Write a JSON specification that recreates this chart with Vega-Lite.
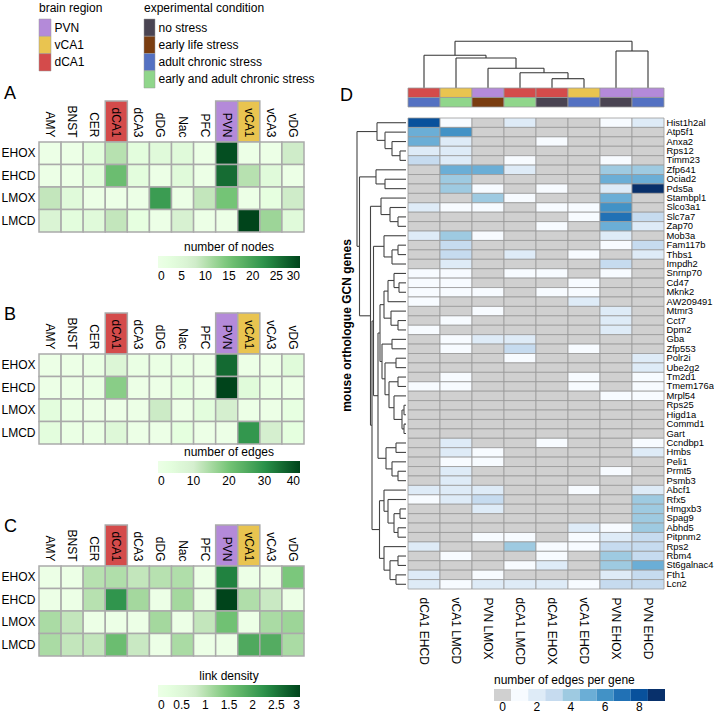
{
"$schema": "https://vega.github.io/schema/vega-lite/v6.json",
"padding": {"left": 0, "top": 1, "right": 0, "bottom": 0},
"config": {"font": "Liberation Sans", "view": {"stroke": null}, "axis": {"grid": false, "ticks": false, "domain": false, "labelColor": "#000", "titleColor": "#000"}, "legend": {"labelColor": "#000", "titleColor": "#000"}},
"datasets": {
"regionKey": [{"cat": "PVN"}, {"cat": "vCA1"}, {"cat": "dCA1"}],
"condKey": [{"cond": "no stress"}, {"cond": "early life stress"}, {"cond": "adult chronic stress"}, {"cond": "early and adult chronic stress"}],
"net": [
{"cond":"EHOX","region":"AMY","nodes":0,"edges":0,"density":0},
{"cond":"EHOX","region":"BNST","nodes":0,"edges":0,"density":0},
{"cond":"EHOX","region":"CER","nodes":3,"edges":1,"density":1.0},
{"cond":"EHOX","region":"dCA1","nodes":10,"edges":7,"density":1.05},
{"cond":"EHOX","region":"dCA3","nodes":3,"edges":1,"density":0.9},
{"cond":"EHOX","region":"dDG","nodes":4,"edges":1,"density":1.0},
{"cond":"EHOX","region":"Nac","nodes":4,"edges":1,"density":1.05},
{"cond":"EHOX","region":"PFC","nodes":0,"edges":0,"density":0},
{"cond":"EHOX","region":"PVN","nodes":29,"edges":35,"density":2.4},
{"cond":"EHOX","region":"vCA1","nodes":0,"edges":0,"density":0},
{"cond":"EHOX","region":"vCA3","nodes":0,"edges":0,"density":0},
{"cond":"EHOX","region":"vDG","nodes":8,"edges":5,"density":1.45},
{"cond":"EHCD","region":"AMY","nodes":0,"edges":0,"density":0},
{"cond":"EHCD","region":"BNST","nodes":0,"edges":0,"density":0},
{"cond":"EHCD","region":"CER","nodes":3,"edges":1,"density":1.0},
{"cond":"EHCD","region":"dCA1","nodes":16,"edges":18,"density":2.2},
{"cond":"EHCD","region":"dCA3","nodes":3,"edges":0,"density":1.15},
{"cond":"EHCD","region":"dDG","nodes":0,"edges":0,"density":0},
{"cond":"EHCD","region":"Nac","nodes":4,"edges":2,"density":1.15},
{"cond":"EHCD","region":"PFC","nodes":0,"edges":0,"density":0},
{"cond":"EHCD","region":"PVN","nodes":26,"edges":40,"density":3.0},
{"cond":"EHCD","region":"vCA1","nodes":10,"edges":5,"density":1.05},
{"cond":"EHCD","region":"vCA3","nodes":4,"edges":1,"density":0.85},
{"cond":"EHCD","region":"vDG","nodes":0,"edges":0,"density":0},
{"cond":"LMOX","region":"AMY","nodes":9,"edges":4,"density":1.1},
{"cond":"LMOX","region":"BNST","nodes":4,"edges":1,"density":0.9},
{"cond":"LMOX","region":"CER","nodes":0,"edges":0,"density":0},
{"cond":"LMOX","region":"dCA1","nodes":0,"edges":0,"density":0},
{"cond":"LMOX","region":"dCA3","nodes":0,"edges":0,"density":0},
{"cond":"LMOX","region":"dDG","nodes":21,"edges":11,"density":1.15},
{"cond":"LMOX","region":"Nac","nodes":0,"edges":0,"density":0},
{"cond":"LMOX","region":"PFC","nodes":9,"edges":4,"density":0.9},
{"cond":"LMOX","region":"PVN","nodes":15,"edges":10,"density":1.55},
{"cond":"LMOX","region":"vCA1","nodes":0,"edges":0,"density":0},
{"cond":"LMOX","region":"vCA3","nodes":2,"edges":0,"density":1.1},
{"cond":"LMOX","region":"vDG","nodes":8,"edges":2,"density":1.2},
{"cond":"LMCD","region":"AMY","nodes":6,"edges":4,"density":1.1},
{"cond":"LMCD","region":"BNST","nodes":3,"edges":1,"density":0.9},
{"cond":"LMCD","region":"CER","nodes":4,"edges":1,"density":0.9},
{"cond":"LMCD","region":"dCA1","nodes":9,"edges":6,"density":1.6},
{"cond":"LMCD","region":"dCA3","nodes":2,"edges":0,"density":0.85},
{"cond":"LMCD","region":"dDG","nodes":0,"edges":0,"density":0},
{"cond":"LMCD","region":"Nac","nodes":7,"edges":3,"density":1.1},
{"cond":"LMCD","region":"PFC","nodes":0,"edges":0,"density":0},
{"cond":"LMCD","region":"PVN","nodes":0,"edges":0,"density":0},
{"cond":"LMCD","region":"vCA1","nodes":30,"edges":29,"density":1.9},
{"cond":"LMCD","region":"vCA3","nodes":12,"edges":10,"density":1.85},
{"cond":"LMCD","region":"vDG","nodes":4,"edges":3,"density":1.1}
],
"annot": [
{"c":"dCA1 EHCD","row":"region","cat":"dCA1"},{"c":"dCA1 EHCD","row":"condition","cat":"adult chronic stress"},
{"c":"vCA1 LMCD","row":"region","cat":"vCA1"},{"c":"vCA1 LMCD","row":"condition","cat":"early and adult chronic stress"},
{"c":"PVN LMOX","row":"region","cat":"PVN"},{"c":"PVN LMOX","row":"condition","cat":"early life stress"},
{"c":"dCA1 LMCD","row":"region","cat":"dCA1"},{"c":"dCA1 LMCD","row":"condition","cat":"early and adult chronic stress"},
{"c":"dCA1 EHOX","row":"region","cat":"dCA1"},{"c":"dCA1 EHOX","row":"condition","cat":"no stress"},
{"c":"vCA1 EHCD","row":"region","cat":"vCA1"},{"c":"vCA1 EHCD","row":"condition","cat":"adult chronic stress"},
{"c":"PVN EHOX","row":"region","cat":"PVN"},{"c":"PVN EHOX","row":"condition","cat":"no stress"},
{"c":"PVN EHCD","row":"region","cat":"PVN"},{"c":"PVN EHCD","row":"condition","cat":"adult chronic stress"}
],
"colTree": [
{"h":9.3,"p1":5,"h1":0,"p2":6,"h2":0},
{"h":15.3,"p1":4,"h1":0,"p2":5.5,"h2":9.3},
{"h":19.7,"p1":3,"h1":0,"p2":4.75,"h2":15.3},
{"h":30,"p1":2,"h1":0,"p2":3.875,"h2":19.7},
{"h":32.7,"p1":1,"h1":0,"p2":2.9375,"h2":30},
{"h":37,"p1":7,"h1":0,"p2":8,"h2":0},
{"h":46.7,"p1":1.96875,"h1":32.7,"p2":7.5,"h2":37}
],
"rowTree": [
{"h":6,"p1":4,"h1":0,"p2":5,"h2":0},
{"h":14,"p1":3,"h1":0,"p2":4.5,"h2":6},
{"h":21,"p1":2,"h1":0,"p2":3.75,"h2":14},
{"h":29,"p1":1,"h1":0,"p2":2.875,"h2":21},
{"h":21,"p1":7,"h1":0,"p2":8,"h2":0},
{"h":30,"p1":6,"h1":0,"p2":7.5,"h2":21},
{"h":8,"p1":11,"h1":0,"p2":12,"h2":0},
{"h":16,"p1":10,"h1":0,"p2":11.5,"h2":8},
{"h":25,"p1":9,"h1":0,"p2":10.75,"h2":16},
{"h":8,"p1":14,"h1":0,"p2":15,"h2":0},
{"h":14,"p1":14.5,"h1":8,"p2":16,"h2":0},
{"h":22,"p1":13,"h1":0,"p2":15.25,"h2":14},
{"h":7,"p1":18,"h1":0,"p2":19,"h2":0},
{"h":12,"p1":17,"h1":0,"p2":18.5,"h2":7},
{"h":18,"p1":17.75,"h1":12,"p2":20,"h2":0},
{"h":8,"p1":22,"h1":0,"p2":23,"h2":0},
{"h":15,"p1":21,"h1":0,"p2":22.5,"h2":8},
{"h":22,"p1":18.875,"h1":18,"p2":21.75,"h2":15},
{"h":14,"p1":24,"h1":0,"p2":25,"h2":0},
{"h":10,"p1":26,"h1":0,"p2":27,"h2":0},
{"h":8,"p1":28,"h1":0,"p2":29,"h2":0},
{"h":2,"p1":31,"h1":0,"p2":32,"h2":0},
{"h":2,"p1":33,"h1":0,"p2":34,"h2":0},
{"h":4,"p1":31.5,"h1":2,"p2":33.5,"h2":2},
{"h":12,"p1":30,"h1":0,"p2":32.5,"h2":4},
{"h":17,"p1":28.5,"h1":8,"p2":31.25,"h2":12},
{"h":21,"p1":26.5,"h1":10,"p2":29.875,"h2":17},
{"h":24,"p1":24.5,"h1":14,"p2":28.1875,"h2":21},
{"h":26,"p1":20.3125,"h1":22,"p2":26.34375,"h2":24},
{"h":10,"p1":35,"h1":0,"p2":36,"h2":0},
{"h":8,"p1":38,"h1":0,"p2":39,"h2":0},
{"h":14,"p1":37,"h1":0,"p2":38.5,"h2":8},
{"h":20,"p1":35.5,"h1":10,"p2":37.75,"h2":14},
{"h":28,"p1":23.328,"h1":26,"p2":36.625,"h2":20},
{"h":32.5,"p1":14.125,"h1":22,"p2":29.977,"h2":28},
{"h":6,"p1":42,"h1":0,"p2":43,"h2":0},
{"h":8,"p1":44,"h1":0,"p2":45,"h2":0},
{"h":12,"p1":42.5,"h1":6,"p2":44.5,"h2":8},
{"h":18,"p1":41,"h1":0,"p2":43.5,"h2":12},
{"h":22,"p1":40,"h1":0,"p2":42.25,"h2":18},
{"h":8,"p1":47,"h1":0,"p2":48,"h2":0},
{"h":10,"p1":49,"h1":0,"p2":50,"h2":0},
{"h":16,"p1":47.5,"h1":8,"p2":49.5,"h2":10},
{"h":22,"p1":46,"h1":0,"p2":48.5,"h2":16},
{"h":26.5,"p1":41.125,"h1":22,"p2":47.25,"h2":22},
{"h":34,"p1":22.051,"h1":32.5,"p2":44.1875,"h2":26.5},
{"h":35.5,"p1":9.875,"h1":25,"p2":33.119,"h2":34},
{"h":46.5,"p1":6.75,"h1":30,"p2":21.497,"h2":35.5},
{"h":49,"p1":1.9375,"h1":29,"p2":14.124,"h2":46.5}
],
"genes": [
{"g":"Hist1h2al","c":"dCA1 EHCD","n":8},{"g":"Hist1h2al","c":"vCA1 LMCD","n":1},{"g":"Hist1h2al","c":"PVN LMOX","n":0},{"g":"Hist1h2al","c":"dCA1 LMCD","n":2},{"g":"Hist1h2al","c":"dCA1 EHOX","n":0},{"g":"Hist1h2al","c":"vCA1 EHCD","n":0},{"g":"Hist1h2al","c":"PVN EHOX","n":1},{"g":"Hist1h2al","c":"PVN EHCD","n":2},
{"g":"Atp5f1","c":"dCA1 EHCD","n":5},{"g":"Atp5f1","c":"vCA1 LMCD","n":6},{"g":"Atp5f1","c":"PVN LMOX","n":0},{"g":"Atp5f1","c":"dCA1 LMCD","n":0},{"g":"Atp5f1","c":"dCA1 EHOX","n":0},{"g":"Atp5f1","c":"vCA1 EHCD","n":0},{"g":"Atp5f1","c":"PVN EHOX","n":0},{"g":"Atp5f1","c":"PVN EHCD","n":0},
{"g":"Anxa2","c":"dCA1 EHCD","n":5},{"g":"Anxa2","c":"vCA1 LMCD","n":2},{"g":"Anxa2","c":"PVN LMOX","n":0},{"g":"Anxa2","c":"dCA1 LMCD","n":0},{"g":"Anxa2","c":"dCA1 EHOX","n":1},{"g":"Anxa2","c":"vCA1 EHCD","n":0},{"g":"Anxa2","c":"PVN EHOX","n":0},{"g":"Anxa2","c":"PVN EHCD","n":0},
{"g":"Rps12","c":"dCA1 EHCD","n":2},{"g":"Rps12","c":"vCA1 LMCD","n":2},{"g":"Rps12","c":"PVN LMOX","n":0},{"g":"Rps12","c":"dCA1 LMCD","n":0},{"g":"Rps12","c":"dCA1 EHOX","n":0},{"g":"Rps12","c":"vCA1 EHCD","n":0},{"g":"Rps12","c":"PVN EHOX","n":0},{"g":"Rps12","c":"PVN EHCD","n":0},
{"g":"Timm23","c":"dCA1 EHCD","n":3},{"g":"Timm23","c":"vCA1 LMCD","n":2},{"g":"Timm23","c":"PVN LMOX","n":0},{"g":"Timm23","c":"dCA1 LMCD","n":1},{"g":"Timm23","c":"dCA1 EHOX","n":0},{"g":"Timm23","c":"vCA1 EHCD","n":0},{"g":"Timm23","c":"PVN EHOX","n":1},{"g":"Timm23","c":"PVN EHCD","n":0},
{"g":"Zfp641","c":"dCA1 EHCD","n":0},{"g":"Zfp641","c":"vCA1 LMCD","n":5},{"g":"Zfp641","c":"PVN LMOX","n":5},{"g":"Zfp641","c":"dCA1 LMCD","n":2},{"g":"Zfp641","c":"dCA1 EHOX","n":0},{"g":"Zfp641","c":"vCA1 EHCD","n":0},{"g":"Zfp641","c":"PVN EHOX","n":4},{"g":"Zfp641","c":"PVN EHCD","n":4},
{"g":"Ociad2","c":"dCA1 EHCD","n":0},{"g":"Ociad2","c":"vCA1 LMCD","n":4},{"g":"Ociad2","c":"PVN LMOX","n":0},{"g":"Ociad2","c":"dCA1 LMCD","n":0},{"g":"Ociad2","c":"dCA1 EHOX","n":0},{"g":"Ociad2","c":"vCA1 EHCD","n":0},{"g":"Ociad2","c":"PVN EHOX","n":5},{"g":"Ociad2","c":"PVN EHCD","n":5},
{"g":"Pds5a","c":"dCA1 EHCD","n":0},{"g":"Pds5a","c":"vCA1 LMCD","n":4},{"g":"Pds5a","c":"PVN LMOX","n":1},{"g":"Pds5a","c":"dCA1 LMCD","n":0},{"g":"Pds5a","c":"dCA1 EHOX","n":1},{"g":"Pds5a","c":"vCA1 EHCD","n":0},{"g":"Pds5a","c":"PVN EHOX","n":2},{"g":"Pds5a","c":"PVN EHCD","n":9},
{"g":"Stambpl1","c":"dCA1 EHCD","n":0},{"g":"Stambpl1","c":"vCA1 LMCD","n":0},{"g":"Stambpl1","c":"PVN LMOX","n":4},{"g":"Stambpl1","c":"dCA1 LMCD","n":1},{"g":"Stambpl1","c":"dCA1 EHOX","n":0},{"g":"Stambpl1","c":"vCA1 EHCD","n":0},{"g":"Stambpl1","c":"PVN EHOX","n":5},{"g":"Stambpl1","c":"PVN EHCD","n":0},
{"g":"Slco3a1","c":"dCA1 EHCD","n":2},{"g":"Slco3a1","c":"vCA1 LMCD","n":1},{"g":"Slco3a1","c":"PVN LMOX","n":1},{"g":"Slco3a1","c":"dCA1 LMCD","n":0},{"g":"Slco3a1","c":"dCA1 EHOX","n":1},{"g":"Slco3a1","c":"vCA1 EHCD","n":1},{"g":"Slco3a1","c":"PVN EHOX","n":6},{"g":"Slco3a1","c":"PVN EHCD","n":0},
{"g":"Slc7a7","c":"dCA1 EHCD","n":0},{"g":"Slc7a7","c":"vCA1 LMCD","n":0},{"g":"Slc7a7","c":"PVN LMOX","n":0},{"g":"Slc7a7","c":"dCA1 LMCD","n":0},{"g":"Slc7a7","c":"dCA1 EHOX","n":0},{"g":"Slc7a7","c":"vCA1 EHCD","n":1},{"g":"Slc7a7","c":"PVN EHOX","n":7},{"g":"Slc7a7","c":"PVN EHCD","n":3},
{"g":"Zap70","c":"dCA1 EHCD","n":0},{"g":"Zap70","c":"vCA1 LMCD","n":0},{"g":"Zap70","c":"PVN LMOX","n":0},{"g":"Zap70","c":"dCA1 LMCD","n":0},{"g":"Zap70","c":"dCA1 EHOX","n":1},{"g":"Zap70","c":"vCA1 EHCD","n":0},{"g":"Zap70","c":"PVN EHOX","n":5},{"g":"Zap70","c":"PVN EHCD","n":2},
{"g":"Mob3a","c":"dCA1 EHCD","n":2},{"g":"Mob3a","c":"vCA1 LMCD","n":4},{"g":"Mob3a","c":"PVN LMOX","n":1},{"g":"Mob3a","c":"dCA1 LMCD","n":0},{"g":"Mob3a","c":"dCA1 EHOX","n":0},{"g":"Mob3a","c":"vCA1 EHCD","n":0},{"g":"Mob3a","c":"PVN EHOX","n":2},{"g":"Mob3a","c":"PVN EHCD","n":0},
{"g":"Fam117b","c":"dCA1 EHCD","n":0},{"g":"Fam117b","c":"vCA1 LMCD","n":3},{"g":"Fam117b","c":"PVN LMOX","n":0},{"g":"Fam117b","c":"dCA1 LMCD","n":0},{"g":"Fam117b","c":"dCA1 EHOX","n":0},{"g":"Fam117b","c":"vCA1 EHCD","n":0},{"g":"Fam117b","c":"PVN EHOX","n":1},{"g":"Fam117b","c":"PVN EHCD","n":3},
{"g":"Thbs1","c":"dCA1 EHCD","n":0},{"g":"Thbs1","c":"vCA1 LMCD","n":3},{"g":"Thbs1","c":"PVN LMOX","n":0},{"g":"Thbs1","c":"dCA1 LMCD","n":2},{"g":"Thbs1","c":"dCA1 EHOX","n":0},{"g":"Thbs1","c":"vCA1 EHCD","n":1},{"g":"Thbs1","c":"PVN EHOX","n":0},{"g":"Thbs1","c":"PVN EHCD","n":2},
{"g":"Impdh2","c":"dCA1 EHCD","n":0},{"g":"Impdh2","c":"vCA1 LMCD","n":2},{"g":"Impdh2","c":"PVN LMOX","n":0},{"g":"Impdh2","c":"dCA1 LMCD","n":0},{"g":"Impdh2","c":"dCA1 EHOX","n":0},{"g":"Impdh2","c":"vCA1 EHCD","n":0},{"g":"Impdh2","c":"PVN EHOX","n":3},{"g":"Impdh2","c":"PVN EHCD","n":0},
{"g":"Snrnp70","c":"dCA1 EHCD","n":1},{"g":"Snrnp70","c":"vCA1 LMCD","n":1},{"g":"Snrnp70","c":"PVN LMOX","n":0},{"g":"Snrnp70","c":"dCA1 LMCD","n":1},{"g":"Snrnp70","c":"dCA1 EHOX","n":1},{"g":"Snrnp70","c":"vCA1 EHCD","n":0},{"g":"Snrnp70","c":"PVN EHOX","n":1},{"g":"Snrnp70","c":"PVN EHCD","n":0},
{"g":"Cd47","c":"dCA1 EHCD","n":1},{"g":"Cd47","c":"vCA1 LMCD","n":1},{"g":"Cd47","c":"PVN LMOX","n":0},{"g":"Cd47","c":"dCA1 LMCD","n":0},{"g":"Cd47","c":"dCA1 EHOX","n":0},{"g":"Cd47","c":"vCA1 EHCD","n":1},{"g":"Cd47","c":"PVN EHOX","n":0},{"g":"Cd47","c":"PVN EHCD","n":0},
{"g":"Mknk2","c":"dCA1 EHCD","n":1},{"g":"Mknk2","c":"vCA1 LMCD","n":1},{"g":"Mknk2","c":"PVN LMOX","n":1},{"g":"Mknk2","c":"dCA1 LMCD","n":0},{"g":"Mknk2","c":"dCA1 EHOX","n":1},{"g":"Mknk2","c":"vCA1 EHCD","n":1},{"g":"Mknk2","c":"PVN EHOX","n":0},{"g":"Mknk2","c":"PVN EHCD","n":0},
{"g":"AW209491","c":"dCA1 EHCD","n":1},{"g":"AW209491","c":"vCA1 LMCD","n":0},{"g":"AW209491","c":"PVN LMOX","n":0},{"g":"AW209491","c":"dCA1 LMCD","n":0},{"g":"AW209491","c":"dCA1 EHOX","n":0},{"g":"AW209491","c":"vCA1 EHCD","n":2},{"g":"AW209491","c":"PVN EHOX","n":0},{"g":"AW209491","c":"PVN EHCD","n":0},
{"g":"Mtmr3","c":"dCA1 EHCD","n":0},{"g":"Mtmr3","c":"vCA1 LMCD","n":0},{"g":"Mtmr3","c":"PVN LMOX","n":1},{"g":"Mtmr3","c":"dCA1 LMCD","n":0},{"g":"Mtmr3","c":"dCA1 EHOX","n":0},{"g":"Mtmr3","c":"vCA1 EHCD","n":0},{"g":"Mtmr3","c":"PVN EHOX","n":2},{"g":"Mtmr3","c":"PVN EHCD","n":0},
{"g":"Cct7","c":"dCA1 EHCD","n":0},{"g":"Cct7","c":"vCA1 LMCD","n":1},{"g":"Cct7","c":"PVN LMOX","n":0},{"g":"Cct7","c":"dCA1 LMCD","n":0},{"g":"Cct7","c":"dCA1 EHOX","n":0},{"g":"Cct7","c":"vCA1 EHCD","n":0},{"g":"Cct7","c":"PVN EHOX","n":2},{"g":"Cct7","c":"PVN EHCD","n":0},
{"g":"Dpm2","c":"dCA1 EHCD","n":1},{"g":"Dpm2","c":"vCA1 LMCD","n":0},{"g":"Dpm2","c":"PVN LMOX","n":0},{"g":"Dpm2","c":"dCA1 LMCD","n":0},{"g":"Dpm2","c":"dCA1 EHOX","n":0},{"g":"Dpm2","c":"vCA1 EHCD","n":0},{"g":"Dpm2","c":"PVN EHOX","n":2},{"g":"Dpm2","c":"PVN EHCD","n":0},
{"g":"Gba","c":"dCA1 EHCD","n":0},{"g":"Gba","c":"vCA1 LMCD","n":1},{"g":"Gba","c":"PVN LMOX","n":2},{"g":"Gba","c":"dCA1 LMCD","n":2},{"g":"Gba","c":"dCA1 EHOX","n":0},{"g":"Gba","c":"vCA1 EHCD","n":0},{"g":"Gba","c":"PVN EHOX","n":0},{"g":"Gba","c":"PVN EHCD","n":0},
{"g":"Zfp553","c":"dCA1 EHCD","n":0},{"g":"Zfp553","c":"vCA1 LMCD","n":1},{"g":"Zfp553","c":"PVN LMOX","n":0},{"g":"Zfp553","c":"dCA1 LMCD","n":3},{"g":"Zfp553","c":"dCA1 EHOX","n":0},{"g":"Zfp553","c":"vCA1 EHCD","n":1},{"g":"Zfp553","c":"PVN EHOX","n":0},{"g":"Zfp553","c":"PVN EHCD","n":0},
{"g":"Polr2i","c":"dCA1 EHCD","n":0},{"g":"Polr2i","c":"vCA1 LMCD","n":0},{"g":"Polr2i","c":"PVN LMOX","n":0},{"g":"Polr2i","c":"dCA1 LMCD","n":1},{"g":"Polr2i","c":"dCA1 EHOX","n":0},{"g":"Polr2i","c":"vCA1 EHCD","n":0},{"g":"Polr2i","c":"PVN EHOX","n":0},{"g":"Polr2i","c":"PVN EHCD","n":2},
{"g":"Ube2g2","c":"dCA1 EHCD","n":0},{"g":"Ube2g2","c":"vCA1 LMCD","n":0},{"g":"Ube2g2","c":"PVN LMOX","n":0},{"g":"Ube2g2","c":"dCA1 LMCD","n":0},{"g":"Ube2g2","c":"dCA1 EHOX","n":0},{"g":"Ube2g2","c":"vCA1 EHCD","n":0},{"g":"Ube2g2","c":"PVN EHOX","n":0},{"g":"Ube2g2","c":"PVN EHCD","n":2},
{"g":"Tm2d1","c":"dCA1 EHCD","n":0},{"g":"Tm2d1","c":"vCA1 LMCD","n":1},{"g":"Tm2d1","c":"PVN LMOX","n":0},{"g":"Tm2d1","c":"dCA1 LMCD","n":0},{"g":"Tm2d1","c":"dCA1 EHOX","n":0},{"g":"Tm2d1","c":"vCA1 EHCD","n":1},{"g":"Tm2d1","c":"PVN EHOX","n":0},{"g":"Tm2d1","c":"PVN EHCD","n":1},
{"g":"Tmem176a","c":"dCA1 EHCD","n":1},{"g":"Tmem176a","c":"vCA1 LMCD","n":1},{"g":"Tmem176a","c":"PVN LMOX","n":0},{"g":"Tmem176a","c":"dCA1 LMCD","n":0},{"g":"Tmem176a","c":"dCA1 EHOX","n":0},{"g":"Tmem176a","c":"vCA1 EHCD","n":1},{"g":"Tmem176a","c":"PVN EHOX","n":0},{"g":"Tmem176a","c":"PVN EHCD","n":1},
{"g":"Mrpl54","c":"dCA1 EHCD","n":0},{"g":"Mrpl54","c":"vCA1 LMCD","n":0},{"g":"Mrpl54","c":"PVN LMOX","n":0},{"g":"Mrpl54","c":"dCA1 LMCD","n":0},{"g":"Mrpl54","c":"dCA1 EHOX","n":0},{"g":"Mrpl54","c":"vCA1 EHCD","n":0},{"g":"Mrpl54","c":"PVN EHOX","n":1},{"g":"Mrpl54","c":"PVN EHCD","n":1},
{"g":"Rps25","c":"dCA1 EHCD","n":0},{"g":"Rps25","c":"vCA1 LMCD","n":0},{"g":"Rps25","c":"PVN LMOX","n":0},{"g":"Rps25","c":"dCA1 LMCD","n":0},{"g":"Rps25","c":"dCA1 EHOX","n":0},{"g":"Rps25","c":"vCA1 EHCD","n":0},{"g":"Rps25","c":"PVN EHOX","n":0},{"g":"Rps25","c":"PVN EHCD","n":0},
{"g":"Higd1a","c":"dCA1 EHCD","n":0},{"g":"Higd1a","c":"vCA1 LMCD","n":0},{"g":"Higd1a","c":"PVN LMOX","n":0},{"g":"Higd1a","c":"dCA1 LMCD","n":0},{"g":"Higd1a","c":"dCA1 EHOX","n":0},{"g":"Higd1a","c":"vCA1 EHCD","n":0},{"g":"Higd1a","c":"PVN EHOX","n":0},{"g":"Higd1a","c":"PVN EHCD","n":0},
{"g":"Commd1","c":"dCA1 EHCD","n":0},{"g":"Commd1","c":"vCA1 LMCD","n":0},{"g":"Commd1","c":"PVN LMOX","n":0},{"g":"Commd1","c":"dCA1 LMCD","n":0},{"g":"Commd1","c":"dCA1 EHOX","n":0},{"g":"Commd1","c":"vCA1 EHCD","n":0},{"g":"Commd1","c":"PVN EHOX","n":0},{"g":"Commd1","c":"PVN EHCD","n":0},
{"g":"Gart","c":"dCA1 EHCD","n":0},{"g":"Gart","c":"vCA1 LMCD","n":0},{"g":"Gart","c":"PVN LMOX","n":0},{"g":"Gart","c":"dCA1 LMCD","n":0},{"g":"Gart","c":"dCA1 EHOX","n":0},{"g":"Gart","c":"vCA1 EHCD","n":0},{"g":"Gart","c":"PVN EHOX","n":0},{"g":"Gart","c":"PVN EHCD","n":0},
{"g":"Ccndbp1","c":"dCA1 EHCD","n":0},{"g":"Ccndbp1","c":"vCA1 LMCD","n":2},{"g":"Ccndbp1","c":"PVN LMOX","n":0},{"g":"Ccndbp1","c":"dCA1 LMCD","n":0},{"g":"Ccndbp1","c":"dCA1 EHOX","n":1},{"g":"Ccndbp1","c":"vCA1 EHCD","n":0},{"g":"Ccndbp1","c":"PVN EHOX","n":0},{"g":"Ccndbp1","c":"PVN EHCD","n":1},
{"g":"Hmbs","c":"dCA1 EHCD","n":0},{"g":"Hmbs","c":"vCA1 LMCD","n":2},{"g":"Hmbs","c":"PVN LMOX","n":1},{"g":"Hmbs","c":"dCA1 LMCD","n":0},{"g":"Hmbs","c":"dCA1 EHOX","n":0},{"g":"Hmbs","c":"vCA1 EHCD","n":0},{"g":"Hmbs","c":"PVN EHOX","n":0},{"g":"Hmbs","c":"PVN EHCD","n":2},
{"g":"Peli1","c":"dCA1 EHCD","n":0},{"g":"Peli1","c":"vCA1 LMCD","n":1},{"g":"Peli1","c":"PVN LMOX","n":1},{"g":"Peli1","c":"dCA1 LMCD","n":0},{"g":"Peli1","c":"dCA1 EHOX","n":0},{"g":"Peli1","c":"vCA1 EHCD","n":0},{"g":"Peli1","c":"PVN EHOX","n":0},{"g":"Peli1","c":"PVN EHCD","n":0},
{"g":"Prmt5","c":"dCA1 EHCD","n":0},{"g":"Prmt5","c":"vCA1 LMCD","n":2},{"g":"Prmt5","c":"PVN LMOX","n":0},{"g":"Prmt5","c":"dCA1 LMCD","n":0},{"g":"Prmt5","c":"dCA1 EHOX","n":0},{"g":"Prmt5","c":"vCA1 EHCD","n":0},{"g":"Prmt5","c":"PVN EHOX","n":1},{"g":"Prmt5","c":"PVN EHCD","n":0},
{"g":"Psmb3","c":"dCA1 EHCD","n":0},{"g":"Psmb3","c":"vCA1 LMCD","n":2},{"g":"Psmb3","c":"PVN LMOX","n":0},{"g":"Psmb3","c":"dCA1 LMCD","n":0},{"g":"Psmb3","c":"dCA1 EHOX","n":0},{"g":"Psmb3","c":"vCA1 EHCD","n":0},{"g":"Psmb3","c":"PVN EHOX","n":0},{"g":"Psmb3","c":"PVN EHCD","n":0},
{"g":"Abcf1","c":"dCA1 EHCD","n":2},{"g":"Abcf1","c":"vCA1 LMCD","n":2},{"g":"Abcf1","c":"PVN LMOX","n":2},{"g":"Abcf1","c":"dCA1 LMCD","n":0},{"g":"Abcf1","c":"dCA1 EHOX","n":0},{"g":"Abcf1","c":"vCA1 EHCD","n":1},{"g":"Abcf1","c":"PVN EHOX","n":0},{"g":"Abcf1","c":"PVN EHCD","n":2},
{"g":"Rfx5","c":"dCA1 EHCD","n":1},{"g":"Rfx5","c":"vCA1 LMCD","n":2},{"g":"Rfx5","c":"PVN LMOX","n":3},{"g":"Rfx5","c":"dCA1 LMCD","n":0},{"g":"Rfx5","c":"dCA1 EHOX","n":0},{"g":"Rfx5","c":"vCA1 EHCD","n":0},{"g":"Rfx5","c":"PVN EHOX","n":0},{"g":"Rfx5","c":"PVN EHCD","n":4},
{"g":"Hmgxb3","c":"dCA1 EHCD","n":0},{"g":"Hmgxb3","c":"vCA1 LMCD","n":0},{"g":"Hmgxb3","c":"PVN LMOX","n":2},{"g":"Hmgxb3","c":"dCA1 LMCD","n":0},{"g":"Hmgxb3","c":"dCA1 EHOX","n":0},{"g":"Hmgxb3","c":"vCA1 EHCD","n":0},{"g":"Hmgxb3","c":"PVN EHOX","n":0},{"g":"Hmgxb3","c":"PVN EHCD","n":4},
{"g":"Spag9","c":"dCA1 EHCD","n":0},{"g":"Spag9","c":"vCA1 LMCD","n":0},{"g":"Spag9","c":"PVN LMOX","n":0},{"g":"Spag9","c":"dCA1 LMCD","n":0},{"g":"Spag9","c":"dCA1 EHOX","n":0},{"g":"Spag9","c":"vCA1 EHCD","n":0},{"g":"Spag9","c":"PVN EHOX","n":0},{"g":"Spag9","c":"PVN EHCD","n":4},
{"g":"Abhd5","c":"dCA1 EHCD","n":0},{"g":"Abhd5","c":"vCA1 LMCD","n":0},{"g":"Abhd5","c":"PVN LMOX","n":0},{"g":"Abhd5","c":"dCA1 LMCD","n":0},{"g":"Abhd5","c":"dCA1 EHOX","n":0},{"g":"Abhd5","c":"vCA1 EHCD","n":2},{"g":"Abhd5","c":"PVN EHOX","n":1},{"g":"Abhd5","c":"PVN EHCD","n":4},
{"g":"Pitpnm2","c":"dCA1 EHCD","n":0},{"g":"Pitpnm2","c":"vCA1 LMCD","n":0},{"g":"Pitpnm2","c":"PVN LMOX","n":1},{"g":"Pitpnm2","c":"dCA1 LMCD","n":1},{"g":"Pitpnm2","c":"dCA1 EHOX","n":0},{"g":"Pitpnm2","c":"vCA1 EHCD","n":1},{"g":"Pitpnm2","c":"PVN EHOX","n":2},{"g":"Pitpnm2","c":"PVN EHCD","n":3},
{"g":"Rps2","c":"dCA1 EHCD","n":2},{"g":"Rps2","c":"vCA1 LMCD","n":0},{"g":"Rps2","c":"PVN LMOX","n":0},{"g":"Rps2","c":"dCA1 LMCD","n":4},{"g":"Rps2","c":"dCA1 EHOX","n":1},{"g":"Rps2","c":"vCA1 EHCD","n":1},{"g":"Rps2","c":"PVN EHOX","n":3},{"g":"Rps2","c":"PVN EHCD","n":3},
{"g":"Rbm4","c":"dCA1 EHCD","n":0},{"g":"Rbm4","c":"vCA1 LMCD","n":1},{"g":"Rbm4","c":"PVN LMOX","n":0},{"g":"Rbm4","c":"dCA1 LMCD","n":0},{"g":"Rbm4","c":"dCA1 EHOX","n":1},{"g":"Rbm4","c":"vCA1 EHCD","n":0},{"g":"Rbm4","c":"PVN EHOX","n":4},{"g":"Rbm4","c":"PVN EHCD","n":3},
{"g":"St6galnac4","c":"dCA1 EHCD","n":0},{"g":"St6galnac4","c":"vCA1 LMCD","n":0},{"g":"St6galnac4","c":"PVN LMOX","n":0},{"g":"St6galnac4","c":"dCA1 LMCD","n":1},{"g":"St6galnac4","c":"dCA1 EHOX","n":2},{"g":"St6galnac4","c":"vCA1 EHCD","n":0},{"g":"St6galnac4","c":"PVN EHOX","n":4},{"g":"St6galnac4","c":"PVN EHCD","n":5},
{"g":"Fth1","c":"dCA1 EHCD","n":2},{"g":"Fth1","c":"vCA1 LMCD","n":0},{"g":"Fth1","c":"PVN LMOX","n":1},{"g":"Fth1","c":"dCA1 LMCD","n":0},{"g":"Fth1","c":"dCA1 EHOX","n":0},{"g":"Fth1","c":"vCA1 EHCD","n":0},{"g":"Fth1","c":"PVN EHOX","n":2},{"g":"Fth1","c":"PVN EHCD","n":3},
{"g":"Lcn2","c":"dCA1 EHCD","n":2},{"g":"Lcn2","c":"vCA1 LMCD","n":1},{"g":"Lcn2","c":"PVN LMOX","n":2},{"g":"Lcn2","c":"dCA1 LMCD","n":2},{"g":"Lcn2","c":"dCA1 EHOX","n":2},{"g":"Lcn2","c":"vCA1 EHCD","n":1},{"g":"Lcn2","c":"PVN EHOX","n":3},{"g":"Lcn2","c":"PVN EHCD","n":3}
]
},
"hconcat": [
{
"vconcat": [
{
"hconcat": [
{
"width": 12, "height": 52,
"title": {"text": "brain region", "fontSize": 12, "fontWeight": "normal", "anchor": "start", "frame": "group", "offset": 4},
"data": {"name": "regionKey"},
"mark": {"type": "rect", "stroke": "#999", "strokeWidth": 0.5},
"encoding": {
"y": {"field": "cat", "type": "nominal", "sort": null, "scale": {"paddingInner": 0, "paddingOuter": 0}, "axis": {"orient": "right", "title": null, "labelFontSize": 12, "labelPadding": 3}},
"color": {"field": "cat", "type": "nominal", "scale": {"domain": ["PVN","vCA1","dCA1"], "range": ["#b48ad9","#e9c450","#d44b4b"]}, "legend": null}
}
},
{
"width": 11, "height": 69,
"title": {"text": "experimental condition", "fontSize": 12, "fontWeight": "normal", "anchor": "start", "frame": "group", "offset": 4},
"data": {"name": "condKey"},
"mark": {"type": "rect", "stroke": "#999", "strokeWidth": 0.5},
"encoding": {
"y": {"field": "cond", "type": "nominal", "sort": null, "scale": {"paddingInner": 0, "paddingOuter": 0}, "axis": {"orient": "right", "title": null, "labelFontSize": 12, "labelPadding": 3}},
"color": {"field": "cond", "type": "nominal", "scale": {"domain": ["no stress","early life stress","adult chronic stress","early and adult chronic stress"], "range": ["#4a4452","#7a3d10","#5471c2","#90d68b"]}, "legend": null}
}
}
],
"spacing": 93, "bounds": "flush",
"resolve": {"scale": {"color": "independent"}, "legend": {"color": "independent"}}
},
{
"vconcat": [
{
"vconcat": [
{
"width": 265, "height": 41,
"title": {"text": "A", "fontSize": 18, "fontWeight": "normal", "anchor": "start", "frame": "group", "dx": -35, "offset": -3},
"data": {"name": "regionKey"},
"mark": {"type": "rect", "stroke": "#aaa", "strokeWidth": 1.5},
"encoding": {
"x": {"field": "cat", "type": "nominal", "scale": {"domain": ["AMY","BNST","CER","dCA1","dCA3","dDG","Nac","PFC","PVN","vCA1","vCA3","vDG"], "paddingInner": 0, "paddingOuter": 0}, "axis": null},
"color": {"field": "cat", "type": "nominal", "scale": {"domain": ["PVN","vCA1","dCA1"], "range": ["#b48ad9","#e9c450","#d44b4b"]}, "legend": null}
}
},
{
"width": 265, "height": 90,
"data": {"name": "net"},
"mark": {"type": "rect", "stroke": "#aaa", "strokeWidth": 1.5},
"encoding": {
"x": {"field": "region", "type": "nominal", "scale": {"domain": ["AMY","BNST","CER","dCA1","dCA3","dDG","Nac","PFC","PVN","vCA1","vCA3","vDG"], "paddingInner": 0, "paddingOuter": 0}, "axis": {"orient": "top", "title": null, "labelAngle": 90, "labelFontSize": 12, "labelPadding": 5}},
"y": {"field": "cond", "type": "nominal", "scale": {"domain": ["EHOX","EHCD","LMOX","LMCD"], "paddingInner": 0, "paddingOuter": 0}, "axis": {"title": null, "labelFontSize": 12, "labelPadding": 4}},
"color": {"field": "nodes", "type": "quantitative", "scale": {"domain": [0, 30], "range": ["#ffffff","#d5efcf","#74c476","#2a924a","#00441b"]}, "legend": {"title": "number of nodes", "orient": "none", "legendX": 119, "legendY": 100, "direction": "horizontal", "gradientLength": 142, "gradientThickness": 12, "values": [0,5,10,15,20,25,30], "titleFontSize": 12, "titleFontWeight": "normal", "titlePadding": 2, "labelFontSize": 12, "labelOffset": 3, "titleAnchor": "middle", "gradientStrokeWidth": 0, "labelOverlap": false}}
}
}
],
"spacing": 0, "bounds": "flush",
"resolve": {"scale": {"color": "independent"}, "legend": {"color": "independent"}}
},
{
"vconcat": [
{
"vconcat": [
{
"width": 265, "height": 41,
"title": {"text": "B", "fontSize": 18, "fontWeight": "normal", "anchor": "start", "frame": "group", "dx": -35, "offset": -12},
"data": {"name": "regionKey"},
"mark": {"type": "rect", "stroke": "#aaa", "strokeWidth": 1.5},
"encoding": {
"x": {"field": "cat", "type": "nominal", "scale": {"domain": ["AMY","BNST","CER","dCA1","dCA3","dDG","Nac","PFC","PVN","vCA1","vCA3","vDG"], "paddingInner": 0, "paddingOuter": 0}, "axis": null},
"color": {"field": "cat", "type": "nominal", "scale": {"domain": ["PVN","vCA1","dCA1"], "range": ["#b48ad9","#e9c450","#d44b4b"]}, "legend": null}
}
},
{
"width": 265, "height": 90,
"data": {"name": "net"},
"mark": {"type": "rect", "stroke": "#aaa", "strokeWidth": 1.5},
"encoding": {
"x": {"field": "region", "type": "nominal", "scale": {"domain": ["AMY","BNST","CER","dCA1","dCA3","dDG","Nac","PFC","PVN","vCA1","vCA3","vDG"], "paddingInner": 0, "paddingOuter": 0}, "axis": {"orient": "top", "title": null, "labelAngle": 90, "labelFontSize": 12, "labelPadding": 5}},
"y": {"field": "cond", "type": "nominal", "scale": {"domain": ["EHOX","EHCD","LMOX","LMCD"], "paddingInner": 0, "paddingOuter": 0}, "axis": {"title": null, "labelFontSize": 12, "labelPadding": 4}},
"color": {"field": "edges", "type": "quantitative", "scale": {"domain": [0, 40], "range": ["#ffffff","#d5efcf","#74c476","#2a924a","#00441b"]}, "legend": {"title": "number of edges", "orient": "none", "legendX": 119, "legendY": 93, "direction": "horizontal", "gradientLength": 142, "gradientThickness": 12, "values": [0,10,20,30,40], "titleFontSize": 12, "titleFontWeight": "normal", "titlePadding": 2, "labelFontSize": 12, "labelOffset": 3, "titleAnchor": "middle", "gradientStrokeWidth": 0, "labelOverlap": false}}
}
}
],
"spacing": 0, "bounds": "flush",
"resolve": {"scale": {"color": "independent"}, "legend": {"color": "independent"}}
},
{
"vconcat": [
{
"width": 265, "height": 41,
"title": {"text": "C", "fontSize": 18, "fontWeight": "normal", "anchor": "start", "frame": "group", "dx": -35, "offset": -12},
"data": {"name": "regionKey"},
"mark": {"type": "rect", "stroke": "#aaa", "strokeWidth": 1.5},
"encoding": {
"x": {"field": "cat", "type": "nominal", "scale": {"domain": ["AMY","BNST","CER","dCA1","dCA3","dDG","Nac","PFC","PVN","vCA1","vCA3","vDG"], "paddingInner": 0, "paddingOuter": 0}, "axis": null},
"color": {"field": "cat", "type": "nominal", "scale": {"domain": ["PVN","vCA1","dCA1"], "range": ["#b48ad9","#e9c450","#d44b4b"]}, "legend": null}
}
},
{
"width": 265, "height": 90,
"data": {"name": "net"},
"mark": {"type": "rect", "stroke": "#aaa", "strokeWidth": 1.5},
"encoding": {
"x": {"field": "region", "type": "nominal", "scale": {"domain": ["AMY","BNST","CER","dCA1","dCA3","dDG","Nac","PFC","PVN","vCA1","vCA3","vDG"], "paddingInner": 0, "paddingOuter": 0}, "axis": {"orient": "top", "title": null, "labelAngle": 90, "labelFontSize": 12, "labelPadding": 5}},
"y": {"field": "cond", "type": "nominal", "scale": {"domain": ["EHOX","EHCD","LMOX","LMCD"], "paddingInner": 0, "paddingOuter": 0}, "axis": {"title": null, "labelFontSize": 12, "labelPadding": 4}},
"color": {"field": "density", "type": "quantitative", "scale": {"domain": [0, 3], "range": ["#ffffff","#d5efcf","#74c476","#2a924a","#00441b"]}, "legend": {"title": "link density", "orient": "none", "legendX": 119, "legendY": 105, "direction": "horizontal", "gradientLength": 142, "gradientThickness": 12, "values": [0,0.5,1,1.5,2,2.5,3], "format": ".1~f", "titleFontSize": 12, "titleFontWeight": "normal", "titlePadding": 2, "labelFontSize": 12, "labelOffset": 3, "titleAnchor": "middle", "gradientStrokeWidth": 0, "labelOverlap": false}}
}
}
],
"spacing": 0, "bounds": "flush",
"resolve": {"scale": {"color": "independent"}, "legend": {"color": "independent"}}
}
],
"spacing": 31,
"resolve": {"scale": {"color": "independent"}, "legend": {"color": "independent"}}
}
],
"spacing": 24,
"resolve": {"scale": {"color": "independent"}, "legend": {"color": "independent"}}
}
],
"spacing": -4,
"resolve": {"scale": {"color": "independent"}, "legend": {"color": "independent"}}
},
{
"hconcat": [
{
"vconcat": [
{
"width": 49, "height": 99,
"data": {"values": []},
"mark": "rect"
},
{
"width": 49, "height": 471,
"title": {"text": "D", "fontSize": 18, "fontWeight": "normal", "anchor": "start", "frame": "group", "dx": -17, "offset": 13},
"data": {"name": "rowTree"},
"layer": [
{
"mark": {"type": "rule", "color": "#444", "strokeWidth": 1.1},
"encoding": {
"x": {"field": "h", "type": "quantitative", "scale": {"domain": [0, 49], "reverse": true, "nice": false, "zero": false}, "axis": null},
"y": {"field": "p1", "type": "quantitative", "scale": {"domain": [0.5, 50.5], "reverse": true, "nice": false, "zero": false}, "axis": {"title": "mouse orthologue GCN genes", "labels": false, "titleFontSize": 12, "titleFontWeight": "bold", "titlePadding": 4, "titleY": 207}},
"y2": {"field": "p2"}
}
},
{
"mark": {"type": "rule", "color": "#444", "strokeWidth": 1.1},
"encoding": {
"x": {"field": "h", "type": "quantitative", "scale": {"domain": [0, 49], "reverse": true, "nice": false, "zero": false}, "axis": null},
"x2": {"field": "h1"},
"y": {"field": "p1", "type": "quantitative", "scale": {"domain": [0.5, 50.5], "reverse": true, "nice": false, "zero": false}, "axis": {"title": "mouse orthologue GCN genes", "labels": false, "titleFontSize": 12, "titleFontWeight": "bold", "titlePadding": 4, "titleY": 207}}
}
},
{
"mark": {"type": "rule", "color": "#444", "strokeWidth": 1.1},
"encoding": {
"x": {"field": "h", "type": "quantitative", "scale": {"domain": [0, 49], "reverse": true, "nice": false, "zero": false}, "axis": null},
"x2": {"field": "h2"},
"y": {"field": "p2", "type": "quantitative", "scale": {"domain": [0.5, 50.5], "reverse": true, "nice": false, "zero": false}, "axis": {"title": "mouse orthologue GCN genes", "labels": false, "titleFontSize": 12, "titleFontWeight": "bold", "titlePadding": 4, "titleY": 207}}
}
}
]
}
],
"spacing": 0, "bounds": "flush"
},
{
"vconcat": [
{
"width": 256, "height": 69,
"data": {"name": "colTree"},
"layer": [
{
"mark": {"type": "rule", "color": "#333", "strokeWidth": 1.1},
"encoding": {
"x": {"field": "p1", "type": "quantitative", "scale": {"domain": [0.5, 8.5], "nice": false, "zero": false}, "axis": null},
"x2": {"field": "p2"},
"y": {"field": "h", "type": "quantitative", "scale": {"domain": [0, 69], "nice": false}, "axis": null}
}
},
{
"mark": {"type": "rule", "color": "#333", "strokeWidth": 1.1},
"encoding": {
"x": {"field": "p1", "type": "quantitative", "scale": {"domain": [0.5, 8.5], "nice": false, "zero": false}, "axis": null},
"y": {"field": "h", "type": "quantitative", "scale": {"domain": [0, 69], "nice": false}, "axis": null},
"y2": {"field": "h1"}
}
},
{
"mark": {"type": "rule", "color": "#333", "strokeWidth": 1.1},
"encoding": {
"x": {"field": "p2", "type": "quantitative", "scale": {"domain": [0.5, 8.5], "nice": false, "zero": false}, "axis": null},
"y": {"field": "h", "type": "quantitative", "scale": {"domain": [0, 69], "nice": false}, "axis": null},
"y2": {"field": "h2"}
}
}
]
},
{
"width": 256, "height": 30,
"data": {"name": "annot"},
"mark": {"type": "rect", "stroke": "#999", "strokeWidth": 0.8},
"encoding": {
"x": {"field": "c", "type": "nominal", "scale": {"domain": ["dCA1 EHCD","vCA1 LMCD","PVN LMOX","dCA1 LMCD","dCA1 EHOX","vCA1 EHCD","PVN EHOX","PVN EHCD"], "paddingInner": 0, "paddingOuter": 0}, "axis": null},
"y": {"field": "row", "type": "nominal", "scale": {"domain": ["region","condition"], "paddingInner": 0, "paddingOuter": 0.579, "align": 0}, "axis": null},
"color": {"field": "cat", "type": "nominal", "scale": {"domain": ["PVN","vCA1","dCA1","no stress","early life stress","adult chronic stress","early and adult chronic stress"], "range": ["#b48ad9","#e9c450","#d44b4b","#4a4452","#7a3d10","#5471c2","#90d68b"]}, "legend": null}
}
},
{
"width": 256, "height": 471,
"data": {"name": "genes"},
"mark": {"type": "rect", "stroke": "#999", "strokeWidth": 0.8},
"encoding": {
"x": {"field": "c", "type": "nominal", "scale": {"domain": ["dCA1 EHCD","vCA1 LMCD","PVN LMOX","dCA1 LMCD","dCA1 EHOX","vCA1 EHCD","PVN EHOX","PVN EHCD"], "paddingInner": 0, "paddingOuter": 0}, "axis": {"orient": "bottom", "title": null, "labelAngle": 90, "labelFontSize": 12, "labelPadding": 8}},
"y": {"field": "g", "type": "nominal", "sort": null, "scale": {"paddingInner": 0, "paddingOuter": 0}, "axis": {"orient": "right", "title": null, "labelFontSize": 9.4, "labelPadding": 2, "labelOverlap": false}},
"color": {"field": "n", "type": "quantitative", "scale": {"type": "quantize", "domain": [-0.5, 9.5], "nice": false, "range": ["#d0d0d0","#f7fbff","#deebf7","#c6dbef","#9ecae1","#6baed6","#4292c6","#2171b5","#08519c","#08306b"]}, "legend": {"type": "gradient", "title": "number of edges per gene", "orient": "none", "legendX": 86, "legendY": 557, "direction": "horizontal", "gradientLength": 171, "gradientThickness": 12, "labelExpr": "(datum.value - 0.5) % 2 == 0 ? format(datum.value - 0.5, 'd') : ''", "titleFontSize": 12, "titleFontWeight": "normal", "titlePadding": 2, "labelFontSize": 12, "labelOffset": 1, "titleAnchor": "start", "gradientStrokeWidth": 0, "labelOverlap": false, "encode": {"labels": {"update": {"dx": {"value": -8.55}}}}}}
}
}
],
"spacing": 0, "bounds": "flush",
"resolve": {"scale": {"color": "independent"}, "legend": {"color": "independent"}}
}
],
"spacing": 0,
"resolve": {"scale": {"color": "independent"}, "legend": {"color": "independent"}}
}
],
"spacing": 25,
"resolve": {"scale": {"color": "independent"}, "legend": {"color": "independent"}}
}
